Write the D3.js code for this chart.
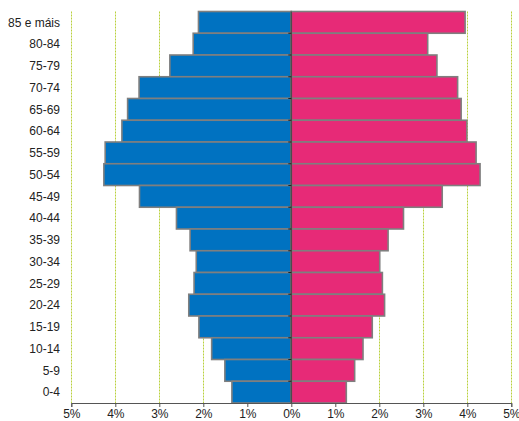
<!DOCTYPE html>
<html>
<head>
<meta charset="utf-8">
<script src="https://cdn.jsdelivr.net/npm/d3@7"></script>
<style>
  body { margin: 0; background: #fff; }
  text { font-family: "Liberation Sans", Arial, sans-serif; }
</style>
</head>
<body>
<svg id="chart"></svg>
<script>
// age groups, top to bottom
var ageGroups = ["85 e máis", "80-84", "75-79", "70-74", "65-69", "60-64", "55-59", "50-54", "45-49",
  "40-44", "35-39", "30-34", "25-29", "20-24", "15-19", "10-14", "5-9", "0-4"];
// percent of population
var males = [2.11, 2.23, 2.76, 3.46, 3.72, 3.85, 4.23, 4.26, 3.45,
  2.61, 2.30, 2.16, 2.21, 2.33, 2.10, 1.81, 1.51, 1.35];
var females = [3.95, 3.10, 3.31, 3.78, 3.86, 3.99, 4.20, 4.29, 3.43,
  2.55, 2.20, 2.01, 2.07, 2.12, 1.84, 1.63, 1.44, 1.25];
var tickValues = [-5, -4, -3, -2, -1, 0, 1, 2, 3, 4, 5];

var width = 519, height = 421;
var margin = {top: 11.5, right: 8, bottom: 18, left: 71.3};

var svg = d3.select("#chart")
  .attr("width", width)
  .attr("height", height);

var x = d3.scaleLinear().domain([-5, 5]).range([margin.left, margin.left + 440]);
var y = d3.scaleBand().domain(ageGroups).range([margin.top, height - margin.bottom]).padding(0);

//gridlines
svg.append("g")
  .selectAll("line")
  .data(tickValues.filter(function(d) { return d != 0; }))
  .enter().append("line")
  .attr("x1", function(d) { return Math.round(x(d)) + 0.5; })
  .attr("x2", function(d) { return Math.round(x(d)) + 0.5; })
  .attr("y1", margin.top)
  .attr("y2", height - margin.bottom)
  .attr("stroke", "#b9d03c")
  .attr("stroke-dasharray", "2,1");

//male bars
svg.append("g")
  .selectAll("rect")
  .data(males)
  .enter().append("rect")
  .attr("x", function(d) { return x(-d); })
  .attr("y", function(d, i) { return y(ageGroups[i]); })
  .attr("width", function(d) { return x(0) - x(-d); })
  .attr("height", y.bandwidth())
  .attr("fill", "#0072c1")
  .attr("stroke", "#7f7f7f")
  .attr("stroke-width", 1.6);

//female bars
svg.append("g")
  .selectAll("rect")
  .data(females)
  .enter().append("rect")
  .attr("x", x(0))
  .attr("y", function(d, i) { return y(ageGroups[i]); })
  .attr("width", function(d) { return x(d) - x(0); })
  .attr("height", y.bandwidth())
  .attr("fill", "#e72a77")
  .attr("stroke", "#7f7f7f")
  .attr("stroke-width", 1.6);

//center axis with small ticks at band edges
var center = svg.append("g");
center.append("line")
  .attr("x1", x(0)).attr("x2", x(0))
  .attr("y1", margin.top).attr("y2", height - margin.bottom)
  .attr("stroke", "#4d4d4d")
  .attr("stroke-width", 1.5);
center.selectAll(".edge")
  .data(ageGroups.slice(1))
  .enter().append("line")
  .attr("x1", x(0) - 3).attr("x2", x(0))
  .attr("y1", function(d) { return y(d); })
  .attr("y2", function(d) { return y(d); })
  .attr("stroke", "#222");

//age labels
svg.append("g")
  .selectAll("text")
  .data(ageGroups)
  .enter().append("text")
  .attr("x", 60)
  .attr("y", function(d) { return y(d) + y.bandwidth() / 2; })
  .attr("dy", "0.35em")
  .attr("text-anchor", "end")
  .attr("font-size", "12px")
  .attr("fill", "#222")
  .text(function(d) { return d; });

//bottom axis (labels kept inside the window)
var xAxis = svg.append("g")
  .attr("transform", "translate(0," + (height - margin.bottom) + ")")
  .call(d3.axisBottom(x)
    .tickValues(tickValues)
    .tickSize(4)
    .tickFormat(function(d) { return Math.abs(d) + "%"; }));
xAxis.select(".domain").attr("stroke", "#555");
xAxis.selectAll(".tick line").attr("stroke", "#555");
xAxis.selectAll("text")
  .attr("y", 6.5)
  .attr("font-size", "12px")
  .attr("fill", "#222")
  .attr("font-family", "Liberation Sans, Arial, sans-serif");
</script>
</body>
</html>
